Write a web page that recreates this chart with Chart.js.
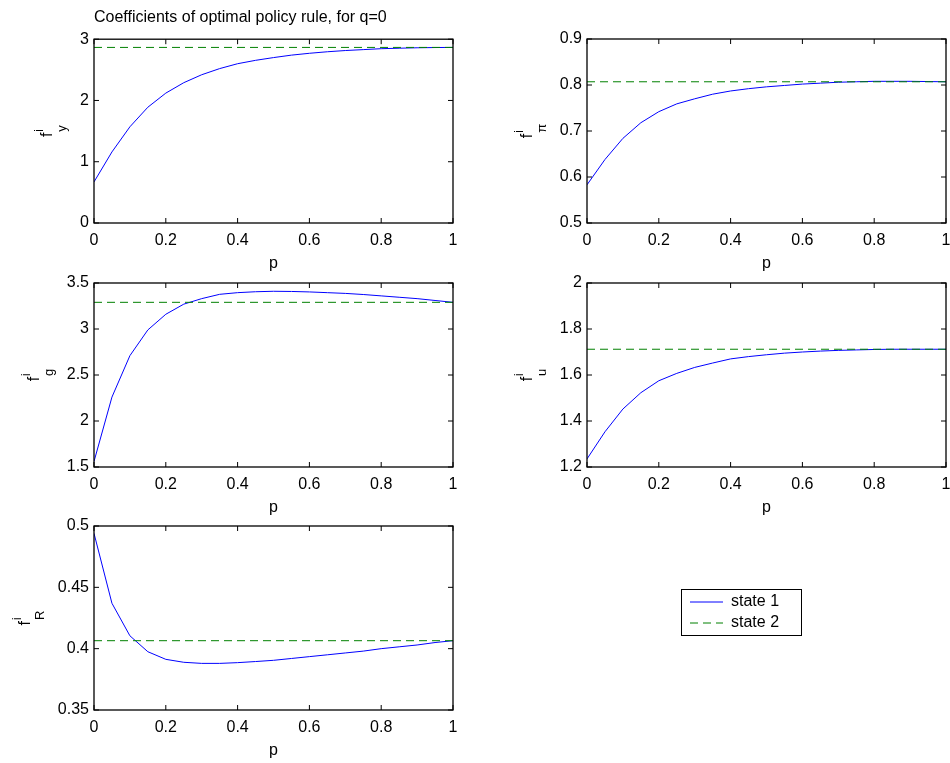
<!DOCTYPE html>
<html>
<head>
<meta charset="utf-8">
<script src="https://cdn.jsdelivr.net/npm/chart.js@4.4.1/dist/chart.umd.min.js"></script>
<style>
  html, body { margin: 0; padding: 0; background: #fff; overflow: hidden; }
  body { width: 950px; height: 763px; position: relative; }
  canvas { position: absolute; }
  #legendBox { position: absolute; left: 681px; top: 589px; width: 119px; height: 45px; border: 1px solid #000; }
  #legendBox canvas { left: 0; top: 0; }
</style>
</head>
<body>
<canvas id="c1"></canvas>
<canvas id="c2"></canvas>
<canvas id="c3"></canvas>
<canvas id="c4"></canvas>
<canvas id="c5"></canvas>
<div id="legendBox"><canvas id="leg" width="119" height="45"></canvas></div>
<script>
var pGrid = [0, 0.05, 0.1, 0.15, 0.2, 0.25, 0.3, 0.35, 0.4, 0.45, 0.5,
             0.55, 0.6, 0.65, 0.7, 0.75, 0.8, 0.85, 0.9, 0.95, 1];

// state 1 coefficients along p
var fy = [0.67, 1.16, 1.57, 1.89, 2.12, 2.29, 2.42, 2.52, 2.60, 2.655, 2.70,
          2.74, 2.77, 2.795, 2.815, 2.83, 2.845, 2.853, 2.86, 2.864, 2.866];
var fpi = [0.583, 0.638, 0.684, 0.718, 0.742, 0.759, 0.770, 0.780, 0.787, 0.792, 0.796,
           0.799, 0.802, 0.804, 0.806, 0.807, 0.808, 0.808, 0.808, 0.8075, 0.807];
var fg = [1.56, 2.26, 2.71, 2.99, 3.16, 3.27, 3.33, 3.377, 3.395, 3.405, 3.41,
          3.408, 3.403, 3.395, 3.387, 3.375, 3.36, 3.345, 3.33, 3.31, 3.29];
var fu = [1.235, 1.353, 1.452, 1.523, 1.575, 1.607, 1.633, 1.652, 1.67, 1.68, 1.688,
          1.695, 1.70, 1.704, 1.707, 1.709, 1.711, 1.712, 1.712, 1.712, 1.712];
var fR = [0.494, 0.437, 0.4105, 0.3975, 0.3913, 0.3889, 0.388, 0.388, 0.3886, 0.3895, 0.3905,
          0.392, 0.3935, 0.395, 0.3965, 0.398, 0.4, 0.4015, 0.403, 0.405, 0.4065];

// state 2 coefficients (flat in p)
var state2 = [2.866, 0.807, 3.29, 1.712, 0.4065];

var xTicks = [0, 0.2, 0.4, 0.6, 0.8, 1];
var yTicks1 = [0, 1, 2, 3];
var yTicks2 = [0.5, 0.6, 0.7, 0.8, 0.9];
var yTicks3 = [1.5, 2, 2.5, 3, 3.5];
var yTicks4 = [1.2, 1.4, 1.6, 1.8, 2];
var yTicks5 = [0.35, 0.4, 0.45, 0.5];

var FONT = '"Liberation Sans", Arial, sans-serif';
var LEFT = 90, RIGHT = 6, TOP = 12, BOTTOM = 52;

// box round the plot, with inward ticks on all four sides, plus the f^i_x label
var boxPlugin = {
  id: 'box',
  afterDraw: function(chart) {
    var ctx = chart.ctx, a = chart.chartArea;
    var xs = chart.scales.x, ys = chart.scales.y;
    var tl = 5;
    ctx.save();
    ctx.strokeStyle = '#000';
    ctx.lineWidth = 1.3;
    ctx.setLineDash([]);
    ctx.strokeRect(a.left, a.top, a.right - a.left, a.bottom - a.top);
    ctx.lineWidth = 1;
    ctx.beginPath();
    xs.ticks.forEach(function(t) {
      var px = xs.getPixelForValue(t.value);
      ctx.moveTo(px, a.bottom); ctx.lineTo(px, a.bottom - tl);
      ctx.moveTo(px, a.top); ctx.lineTo(px, a.top + tl);
    });
    ys.ticks.forEach(function(t) {
      var py = ys.getPixelForValue(t.value);
      ctx.moveTo(a.left, py); ctx.lineTo(a.left + tl, py);
      ctx.moveTo(a.right, py); ctx.lineTo(a.right - tl, py);
    });
    ctx.stroke();

    // y label: f with superscript i and a subscript, rotated
    var sub = chart.options.plugins.box.sub;
    ctx.font = '16px ' + FONT;
    var maxW = 0;
    ys.ticks.forEach(function(t) {
      maxW = Math.max(maxW, ctx.measureText(t.label).width);
    });
    var baseX = a.left - 5 - maxW - 28;
    var midY = (a.top + a.bottom) / 2;
    ctx.translate(baseX, midY);
    ctx.rotate(-Math.PI / 2);
    ctx.fillStyle = '#000';
    ctx.textBaseline = 'alphabetic';
    ctx.font = '16px ' + FONT;
    var fw = ctx.measureText('f').width;
    ctx.font = '13px ' + FONT;
    var sw = Math.max(ctx.measureText('i').width, ctx.measureText(sub).width);
    var x0 = -(fw + 1 + sw) / 2;
    ctx.font = '16px ' + FONT;
    ctx.fillText('f', x0, 0);
    ctx.font = '12px ' + FONT;
    ctx.fillText('i', x0 + fw + 1, -9);
    ctx.font = '13px ' + FONT;
    ctx.fillText(sub, x0 + fw + 1, 14);
    ctx.restore();
  }
};

function makePanel(id, plot, vals, level, yTicks, sub, title) {
  var canvas = document.getElementById(id);
  var padTop = title ? plot.top : TOP;
  canvas.width = (plot.right - plot.left) + LEFT + RIGHT;
  canvas.height = (plot.bottom - plot.top) + padTop + BOTTOM;
  canvas.style.left = (plot.left - LEFT) + 'px';
  canvas.style.top = (plot.top - padTop) + 'px';

  var line1 = pGrid.map(function(p, i) { return {x: p, y: vals[i]}; });
  var line2 = [{x: pGrid[0], y: level}, {x: pGrid[pGrid.length - 1], y: level}];

  return new Chart(canvas, {
    type: 'line',
    data: {
      datasets: [
        {label: 'state 1', data: line1, borderColor: '#0000ff', borderWidth: 1,
         pointRadius: 0, tension: 0, order: 1},
        {label: 'state 2', data: line2, borderColor: '#008000', borderWidth: 1,
         borderDash: [8, 5], pointRadius: 0, tension: 0, order: 0}
      ]
    },
    options: {
      responsive: false,
      animation: false,
      layout: {padding: {top: title ? 0 : TOP, right: RIGHT, left: 0, bottom: 0}},
      scales: {
        x: {
          type: 'linear', min: 0, max: 1,
          grid: {display: false, drawTicks: false},
          border: {display: false},
          afterBuildTicks: function(s) { s.ticks = xTicks.map(function(v) { return {value: v}; }); },
          afterFit: function(s) { s.height = BOTTOM; s.paddingLeft = 0; s.paddingRight = 0; },
          ticks: {color: '#000', font: {family: FONT, size: 16}, padding: 8, maxRotation: 0,
                  callback: function(v) { return String(v); }},
          title: {display: true, text: 'p', color: '#000', font: {family: FONT, size: 16},
                  padding: {top: 0, bottom: 2}}
        },
        y: {
          type: 'linear', min: yTicks[0], max: yTicks[yTicks.length - 1],
          grid: {display: false, drawTicks: false},
          border: {display: false},
          afterBuildTicks: function(s) { s.ticks = yTicks.map(function(v) { return {value: v}; }); },
          afterFit: function(s) { s.width = LEFT; s.paddingTop = 0; s.paddingBottom = 0; },
          ticks: {color: '#000', font: {family: FONT, size: 16}, padding: 5,
                  callback: function(v) { return String(v); }}
        }
      },
      plugins: {
        legend: {display: false},
        tooltip: {enabled: false},
        title: title ? {display: true, text: title, align: 'start', fullSize: false,
                        color: '#000', font: {family: FONT, size: 16, weight: 'normal'},
                        padding: {top: 8, bottom: 12}} : {display: false},
        box: {sub: sub}
      }
    },
    plugins: [boxPlugin]
  });
}

makePanel('c1', {left: 94, top: 39, right: 453, bottom: 223}, fy, state2[0], yTicks1, 'y',
          'Coefficients of optimal policy rule, for q=0');
makePanel('c2', {left: 587, top: 39, right: 946, bottom: 223}, fpi, state2[1], yTicks2, 'π');
makePanel('c3', {left: 94, top: 283, right: 453, bottom: 467}, fg, state2[2], yTicks3, 'g');
makePanel('c4', {left: 587, top: 283, right: 946, bottom: 467}, fu, state2[3], yTicks4, 'u');
makePanel('c5', {left: 94, top: 526, right: 453, bottom: 710}, fR, state2[4], yTicks5, 'R');

// legend in its own small box; line samples take the datasets' own colour and dash
new Chart(document.getElementById('leg'), {
  type: 'line',
  data: {
    datasets: [
      {label: 'state 1', data: [], borderColor: '#0000ff', borderWidth: 1},
      {label: 'state 2', data: [], borderColor: '#008000', borderWidth: 1, borderDash: [8, 5]}
    ]
  },
  options: {
    responsive: false,
    animation: false,
    layout: {padding: {left: 3, top: -1, right: 0, bottom: 0}},
    scales: {x: {display: false}, y: {display: false}},
    plugins: {
      tooltip: {enabled: false},
      legend: {
        position: 'top', align: 'start', maxHeight: 100,
        labels: {
          usePointStyle: true, pointStyle: 'line', pointStyleWidth: 33, boxWidth: 33,
          padding: 5, color: '#000', font: {family: FONT, size: 16},
          generateLabels: function(chart) {
            var items = Chart.defaults.plugins.legend.labels.generateLabels(chart);
            items.forEach(function(it) {
              var ds = chart.data.datasets[it.datasetIndex];
              it.strokeStyle = ds.borderColor;
              it.lineDash = ds.borderDash || [];
              it.lineWidth = ds.borderWidth;
              it.pointStyle = 'line';
            });
            return items;
          }
        }
      }
    }
  }
});
</script>
</body>
</html>
